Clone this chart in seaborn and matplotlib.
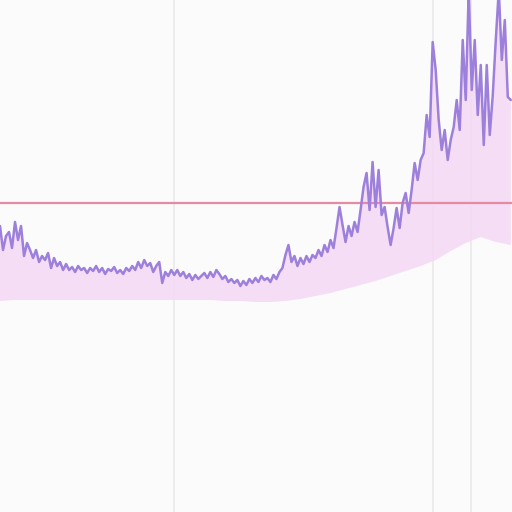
import numpy as np
import pandas as pd
import seaborn as sns
import matplotlib.pyplot as plt

# series level (one reading every step)
values = [
    286, 262, 276, 280, 264, 290, 272, 286, 256, 269, 262, 254, 262, 250, 256,
    252, 259, 244, 254, 246, 250, 242, 248, 242, 245, 240, 246, 242, 244, 239,
    244, 241, 246, 240, 244, 238, 243, 241, 245, 239, 242, 238, 244, 241, 246,
    242, 250, 244, 252, 246, 249, 240, 246, 250, 229, 240, 236, 242, 237, 242,
    236, 240, 234, 238, 232, 237, 233, 236, 239, 234, 240, 235, 242, 238, 233,
    236, 230, 233, 229, 232, 226, 231, 227, 233, 229, 234, 230, 236, 232, 234,
    230, 237, 233, 240,
    244, 257, 267, 250, 256, 246, 254, 248, 256, 250, 257, 254, 262, 256, 267,
    260, 272, 264, 284, 305, 287, 270, 286, 276, 290, 280,
    302, 325, 339, 302, 350, 305, 342, 297, 305, 285, 267, 284, 304, 284, 309,
    319, 299, 322, 349, 332, 352, 359, 397, 375, 470, 442, 392, 362, 382, 352,
    372, 385, 412, 382, 472, 412, 522, 422, 472, 397, 447, 367, 447, 377, 417,
    472, 522, 452, 492, 415, 412,
]

# smooth baseline, every 5th step
band_step = list(range(0, 171, 5))
band = [
    211, 212, 212, 212, 212, 212, 212, 212, 212, 212, 212, 212, 212, 212, 212,
    211, 211, 210, 210, 211, 213, 216, 219, 223, 227, 231, 236, 241, 246, 252,
    261, 269, 275, 270, 267,
]

threshold = 309
markers = [58, 144, 156.7]

df = pd.DataFrame({"step": np.arange(len(values)), "value": values})

sns.set_style("white")
fig = plt.figure(figsize=(5.12, 5.12), dpi=100, facecolor="#fbfbfb")
ax = fig.add_axes([0, 0, 1, 1])
ax.set_facecolor("#fbfbfb")

for m in markers:
    ax.axvline(m, color="#e9e9e9", linewidth=1.2, zorder=0)

# shaded region between series and baseline
ax.fill(
    np.concatenate([df["step"].values, band_step[::-1]]),
    np.concatenate([df["value"].values, band[::-1]]),
    color="#f5daf5", alpha=0.9, linewidth=0, zorder=1,
)

ax.axhline(threshold, color="#e58aa3", linewidth=1.6, zorder=2)

sns.lineplot(data=df, x="step", y="value", ax=ax, color="#9d80db",
             linewidth=1.8, zorder=3)

ax.set_xlim(0, 170.4)
ax.set_ylim(0, 512)
ax.set_xlabel("")
ax.set_ylabel("")
ax.set_xticks([])
ax.set_yticks([])
sns.despine(ax=ax, left=True, bottom=True)

fig.savefig("out.png", dpi=100, facecolor=fig.get_facecolor())
plt.close()
